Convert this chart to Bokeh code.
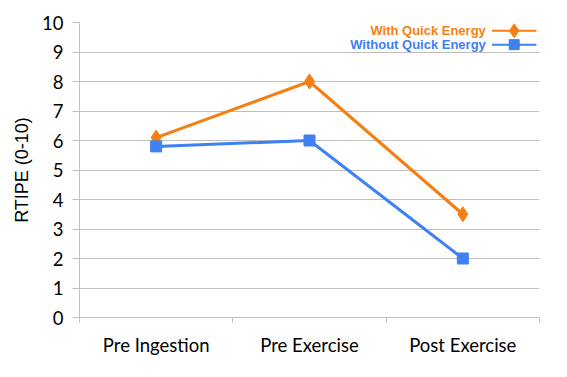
from bokeh.plotting import figure
from bokeh.models import FixedTicker, Label, Range1d
from bokeh.embed import file_html
from bokeh.resources import INLINE

categories = ["Pre Ingestion", "Pre Exercise", "Post Exercise"]
with_qe = [6.1, 8.0, 3.5]
without_qe = [5.8, 6.0, 2.0]
series_names = ["With Quick Energy", "Without Quick Energy"]
y_ticks = list(range(0, 11))

ORANGE = "#F57F12"
BLUE = "#3F80F2"
GRID = "#BFBFBF"
FONT = "Lato"

xs = [i + 0.5 for i in range(len(categories))]

p = figure(width=551, height=361, output_backend="svg", toolbar_location=None,
           x_range=Range1d(0, len(categories)), y_range=Range1d(0, 10),
           min_border_left=79, min_border_right=12, min_border_top=22, min_border_bottom=44)
p.frame_width = 460
p.frame_height = 295
p.outline_line_color = None
p.background_fill_color = "white"

p.xgrid.grid_line_color = None
p.ygrid.grid_line_color = GRID
p.ygrid.grid_line_width = 1

p.yaxis.ticker = FixedTicker(ticks=y_ticks)
p.yaxis.axis_line_color = GRID
p.yaxis.major_tick_line_color = GRID
p.yaxis.major_tick_out = 7
p.yaxis.major_tick_in = 0
p.yaxis.minor_tick_line_color = None
p.yaxis.major_label_text_font = FONT
p.yaxis.major_label_text_font_size = "18.5px"
p.yaxis.major_label_text_color = "black"
p.yaxis.major_label_standoff = 9
p.yaxis.axis_label = "RTIPE (0-10)"
p.yaxis.axis_label_text_font = "Liberation Sans"
p.yaxis.axis_label_text_font_style = "normal"
p.yaxis.axis_label_text_font_size = "18px"
p.yaxis.axis_label_text_color = "black"
p.yaxis.axis_label_standoff = 7

p.xaxis.ticker = FixedTicker(ticks=xs, minor_ticks=list(range(len(categories) + 1)))
p.xaxis.major_label_overrides = {x: c for x, c in zip(xs, categories)}
p.xaxis.axis_line_color = GRID
p.xaxis.major_tick_line_color = None
p.xaxis.major_tick_out = 5
p.xaxis.minor_tick_line_color = GRID
p.xaxis.minor_tick_out = 5
p.xaxis.minor_tick_in = 0
p.xaxis.major_label_text_font = FONT
p.xaxis.major_label_text_font_size = "18.5px"
p.xaxis.major_label_text_color = "black"
p.xaxis.major_label_standoff = 11

p.line(xs, with_qe, line_color=ORANGE, line_width=3)
p.scatter(xs, with_qe, marker="diamond", size=15, fill_color=ORANGE, line_color=ORANGE)
p.line(xs, without_qe, line_color=BLUE, line_width=3)
p.scatter(xs, without_qe, marker="square", size=11, fill_color=BLUE, line_color=BLUE)

# manual legend (text right of which sits the sample glyph)
leg_x0, leg_x1, leg_xm = 2.69, 2.98, 2.835
leg_y = [9.72, 9.25]
colors = [ORANGE, BLUE]
markers = ["diamond", "square"]
msizes = [14, 10]
for i, name in enumerate(series_names):
    p.line([leg_x0, leg_x1], [leg_y[i], leg_y[i]], line_color=colors[i], line_width=2)
    p.scatter([leg_xm], [leg_y[i]], marker=markers[i], size=msizes[i],
              fill_color=colors[i], line_color=colors[i])
    p.add_layout(Label(x=leg_x0 - 0.04, y=leg_y[i], text=name, text_align="right",
                       text_baseline="middle", text_color=colors[i],
                       text_font="Liberation Sans", text_font_style="bold",
                       text_font_size="13px"))

open("out.html", "w").write(file_html(p, INLINE))
